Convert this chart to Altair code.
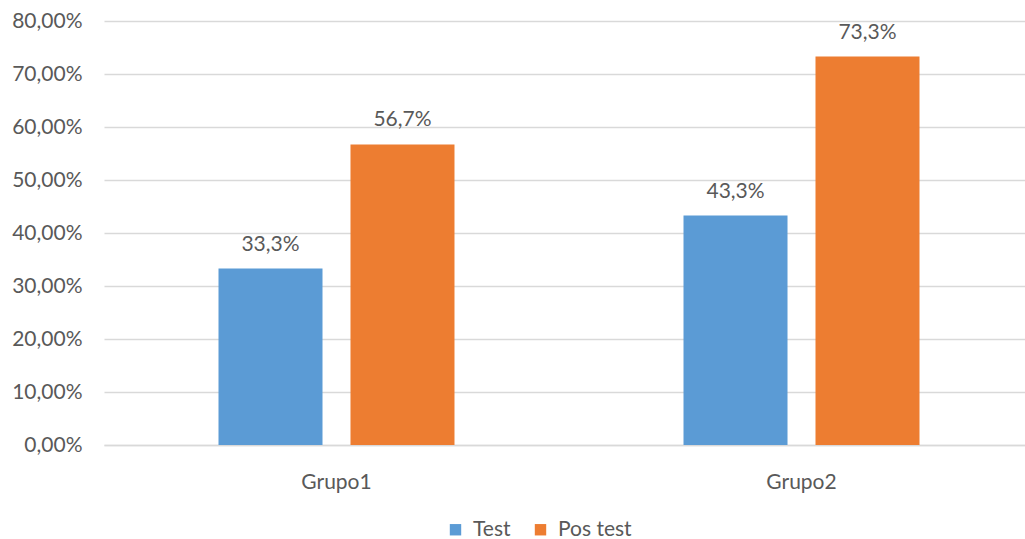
import altair as alt
import pandas as pd

groups = ["Grupo1", "Grupo1", "Grupo2", "Grupo2"]
series = ["Test", "Pos test", "Test", "Pos test"]
values = [0.333, 0.567, 0.433, 0.733]
y_ticks = [0, 0.1, 0.2, 0.3, 0.4, 0.5, 0.6, 0.7, 0.8]

df = pd.DataFrame({"grupo": groups, "serie": series, "valor": values})

FONT = "Lato"
GRAY = "#595959"
order = ["Test", "Pos test"]
colors = ["#5B9BD5", "#ED7D31"]

base = alt.Chart(df).encode(
    x=alt.X("grupo:N", title=None,
            scale=alt.Scale(range=[0, 930], paddingInner=0.4925, paddingOuter=0.24624),
            axis=alt.Axis(labelAngle=0, labelBaseline="alphabetic", labelPadding=43,
                          grid=False, ticks=False, domain=True, domainColor="#D9D9D9",
                          domainWidth=1.3)),
    xOffset=alt.XOffset("serie:N", sort=order,
                        scale=alt.Scale(paddingInner=0.212, paddingOuter=0)),
)

bars = base.mark_bar().encode(
    y=alt.Y("valor:Q", title=None,
            scale=alt.Scale(domain=[0, 0.8], nice=False),
            axis=alt.Axis(values=y_ticks,
                          labelExpr="replace(format(datum.value, '.2%'), '.', ',')",
                          labelPadding=22, domain=False, ticks=False, grid=True)),
    color=alt.Color("serie:N", sort=order,
                    scale=alt.Scale(domain=order, range=colors),
                    legend=alt.Legend(title=None, orient="none", direction="horizontal",
                                      legendX=341, legendY=498, symbolType="square",
                                      symbolSize=130, symbolStrokeWidth=0,
                                      labelFont=FONT, labelFontSize=21, labelColor=GRAY,
                                      columnPadding=19, labelOffset=7, padding=0)),
)

labels = base.mark_text(baseline="alphabetic", dy=-18, font=FONT, fontSize=21, color=GRAY).transform_calculate(
    etiqueta="replace(format(datum.valor, '.1%'), '.', ',')"
).encode(
    y=alt.Y("valor:Q"),
    text=alt.Text("etiqueta:N"),
)

chart = alt.layer(bars, labels).properties(
    width=921, height=424,
    background="white",
    autosize=alt.AutoSizeParams(type="none"),
    padding={"left": 104, "top": 21, "right": 0, "bottom": 94},
).configure_axis(
    labelFont=FONT, labelFontSize=21, labelColor=GRAY,
    gridColor="#D9D9D9", gridWidth=1.3,
).configure_view(stroke="transparent", strokeWidth=0)

chart.save("out.html", embed_options={"renderer": "svg", "actions": False})
